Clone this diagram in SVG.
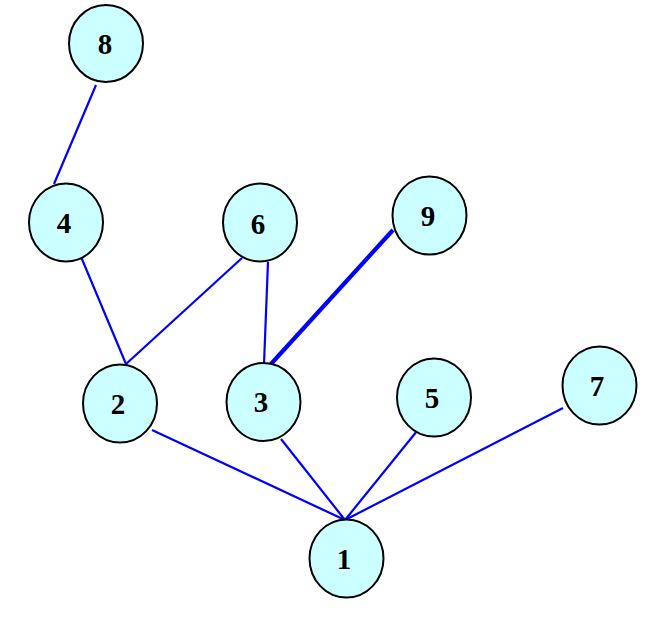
<svg xmlns="http://www.w3.org/2000/svg" width="664" height="628" viewBox="0 0 664 628">
<style>
.e{stroke:#0000ff;stroke-width:2.2;fill:none;stroke-linecap:butt}
.t{stroke-width:4.2}
.n ellipse{fill:#ccffff;stroke:#000;stroke-width:2}
.n text{font-family:"Liberation Serif","Times New Roman",serif;font-weight:bold;font-size:29px;text-anchor:middle;fill:#000}
</style>
<rect width="664" height="628" fill="#fff"/>
<g id="connectors">
<line class="e" x1="96" y1="85" x2="54" y2="184"/>
<line class="e" x1="79" y1="252" x2="126" y2="364"/>
<line class="e" x1="242" y1="258" x2="126" y2="364"/>
<line class="e" x1="268" y1="262" x2="264" y2="364"/>
<line class="e t" x1="393" y1="230" x2="271" y2="364"/>
<line class="e" x1="152" y1="430" x2="345" y2="520"/>
<line class="e" x1="281" y1="439" x2="345" y2="520"/>
<line class="e" x1="417" y1="431" x2="345" y2="520"/>
<line class="e" x1="563" y1="408" x2="345" y2="520"/>
</g>
<g id="node8" class="n"><ellipse cx="106" cy="43.5" rx="37" ry="38.5"/><text x="105" y="54">8</text></g>
<g id="node4" class="n"><ellipse cx="66" cy="222.5" rx="37" ry="39"/><text x="64" y="233">4</text></g>
<g id="node6" class="n"><ellipse cx="260" cy="222.5" rx="37" ry="39"/><text x="258" y="234">6</text></g>
<g id="node9" class="n"><ellipse cx="429.5" cy="215.5" rx="37" ry="39"/><text x="428" y="226">9</text></g>
<g id="node2" class="n"><ellipse cx="120" cy="403.5" rx="37" ry="39"/><text x="118" y="414">2</text></g>
<g id="node3" class="n"><ellipse cx="263.5" cy="402" rx="37" ry="39"/><text x="261" y="412">3</text></g>
<g id="node5" class="n"><ellipse cx="434" cy="397.5" rx="37" ry="39"/><text x="432" y="408">5</text></g>
<g id="node7" class="n"><ellipse cx="599.5" cy="385.5" rx="37" ry="39"/><text x="597" y="396">7</text></g>
<g id="node1" class="n"><ellipse cx="346.5" cy="558.5" rx="37" ry="39"/><text x="344" y="569">1</text></g>
</svg>
